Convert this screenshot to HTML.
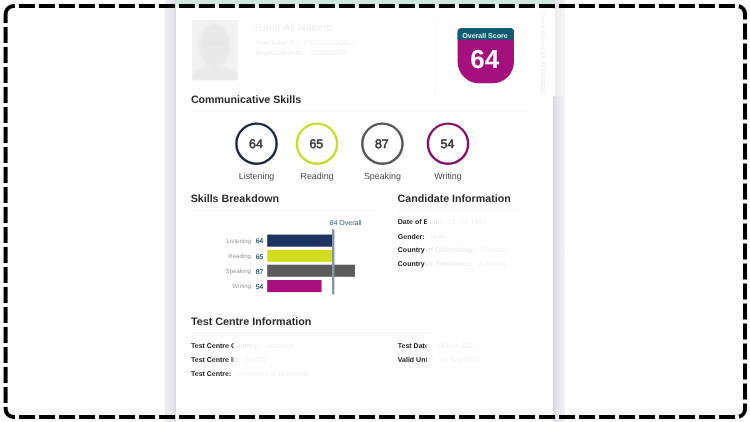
<!DOCTYPE html>
<html lang="en">
<head>
<meta charset="utf-8">
<title>Score Report</title>
<style>
html,body{margin:0;padding:0;background:#fff;}
body{width:750px;height:422px;overflow:hidden;position:relative;font-family:"Liberation Sans",sans-serif;}
svg{position:absolute;left:0;top:0;display:block;}
text{font-family:"Liberation Sans",sans-serif;text-rendering:geometricPrecision;}
.b{font-weight:bold;}
.h{font-weight:bold;font-size:10.67px;fill:#2a2a2a;}
.row{font-weight:bold;font-size:7px;fill:#222;}
.fade{font-weight:normal;fill:#444;}
.num{font-weight:normal;font-size:12.4px;fill:#333;stroke:#333;stroke-width:0.5px;text-anchor:middle;}
.lab{font-size:8.9px;fill:#4a4a4a;text-anchor:middle;}
.bl{font-size:6.1px;fill:#9a9a9a;text-anchor:end;}
.bv{font-size:6.8px;fill:#27506d;font-weight:normal;stroke:#27506d;stroke-width:0.18px;}
</style>
</head>
<body>
<svg width="750" height="422" viewBox="0 0 750 422">
  <defs>
    <linearGradient id="gl" x1="0" x2="1" y1="0" y2="0">
      <stop offset="0" stop-color="#ffffff"/>
      <stop offset="0.12" stop-color="#eeeef3"/>
      <stop offset="0.5" stop-color="#e9e8ee"/>
      <stop offset="0.85" stop-color="#e3e2e9"/>
      <stop offset="1" stop-color="#d6d5dc"/>
    </linearGradient>
    <linearGradient id="gr" x1="1" x2="0" y1="0" y2="0">
      <stop offset="0" stop-color="#ffffff"/>
      <stop offset="0.12" stop-color="#eeeef3"/>
      <stop offset="0.5" stop-color="#e9e8ee"/>
      <stop offset="0.85" stop-color="#e0dfe6"/>
      <stop offset="1" stop-color="#cfced5"/>
    </linearGradient>
    <filter id="blur1" x="-20%" y="-20%" width="140%" height="140%"><feGaussianBlur stdDeviation="1.2"/></filter>
    <clipPath id="photoclip"><rect x="192" y="20" width="46" height="60.5"/></clipPath>
  </defs>

  <!-- page background -->
  <rect x="0" y="0" width="750" height="422" fill="#ffffff"/>
  <!-- side strips -->
  <rect x="164" y="0" width="12" height="422" fill="url(#gl)"/>
  <rect x="552.8" y="0" width="13" height="422" fill="url(#gr)"/>
  <!-- card -->
  <rect x="176" y="0" width="376.8" height="422" fill="#ffffff"/>
  <!-- green top band -->
  <rect x="176" y="0" width="376.8" height="4.2" fill="#cde8e0"/><rect x="176" y="4.2" width="376.8" height="3.8" fill="#e4f2ee"/>

  <!-- photo -->
  <g clip-path="url(#photoclip)">
    <rect x="192" y="20" width="46" height="60.5" fill="#f2f2f2"/>
    <g filter="url(#blur1)">
      <ellipse cx="214.5" cy="45.5" rx="15.5" ry="22" fill="#e8e8e8"/>
      <rect x="203" y="41" width="23" height="4" fill="#e4e4e4"/>
      <path d="M192 81 L192 74 Q200 68 207 67 L222 67 Q231 68 238 74 L238 81 Z" fill="#e9e9e9"/>
    </g>
  </g>

  <!-- name block (faded) -->
  <text x="255" y="30.8" font-size="10.7" fill="#eeeeee">Rana Ali Naeem</text>
  <text x="255.5" y="45.3" font-size="6.6" font-weight="bold" fill="#f0f0f0">Test Taker ID: <tspan font-weight="normal" dx="4" font-size="7.4">PTE000000421</tspan></text>
  <text x="255.5" y="55.2" font-size="6.6" font-weight="bold" fill="#f0f0f0">Registration ID: <tspan font-weight="normal" dx="4" font-size="7.4">408891884</tspan></text>

  <!-- faint divider -->
  <rect x="434.5" y="19.5" width="1" height="76" fill="#f6f6f6"/>

  <!-- badge -->
  <path d="M457.6 32.5 Q457.6 28 462.1 28 L509.5 28 Q514 28 514 32.5 L514 61.8 A21.5 21.5 0 0 1 492.5 83.3 L479.1 83.3 A21.5 21.5 0 0 1 457.6 61.8 Z" fill="#a4107e"/>
  <path d="M457.6 39.7 L457.6 32.5 Q457.6 28 462.1 28 L509.5 28 Q514 28 514 32.5 L514 39.7 Z" fill="#0e5b74"/>
  <text x="485" y="37.55" font-size="7.05" font-weight="bold" fill="#d9f1ec" text-anchor="middle">Overall Score</text>
  <text x="484.8" y="68.2" font-size="26" font-weight="bold" fill="#ffffff" text-anchor="middle">64</text>

  <!-- rotated faint text -->
  <text transform="translate(540.6,11.5) rotate(90)" font-size="6.1" font-weight="bold" fill="#efefef">Score Report ID: 4136628DG</text>

  <!-- Communicative Skills -->
  <text class="h" transform="translate(190.9,103.15)">Communicative Skills</text>
  <rect x="191" y="110.7" width="336" height="1" fill="#f5f5f5"/>

  <circle cx="256.5" cy="143.7" r="20.1" fill="#fff" stroke="#1b2947" stroke-width="2.4"/>
  <circle cx="317" cy="143.7" r="20.1" fill="#fff" stroke="#c9da2e" stroke-width="2.4"/>
  <circle cx="382.4" cy="143.7" r="20.1" fill="#fff" stroke="#555555" stroke-width="2.4"/>
  <circle cx="448" cy="143.7" r="20.1" fill="#fff" stroke="#86106f" stroke-width="2.4"/>
  <text class="num" x="255.9" y="148.2">64</text>
  <text class="num" x="316.3" y="148.2">65</text>
  <text class="num" x="381.8" y="148.2">87</text>
  <text class="num" x="447.4" y="148.2">54</text>
  <text class="lab" x="256.5" y="179.2">Listening</text>
  <text class="lab" x="317" y="179.2">Reading</text>
  <text class="lab" x="382.4" y="179.2">Speaking</text>
  <text class="lab" x="448" y="179.2">Writing</text>

  <!-- Skills Breakdown -->
  <text class="h" transform="translate(190.7,201.85)">Skills Breakdown</text>
  <rect x="191" y="209.2" width="185" height="1" fill="#f5f5f5"/>
  <text x="329.5" y="225.0" font-size="7.05" fill="#2c5a78">64 Overall</text>

  <text class="bl" x="251" y="242.8">Listening</text>
  <text class="bl" x="251" y="258">Reading</text>
  <text class="bl" x="251" y="273">Speaking</text>
  <text class="bl" x="251" y="288.2">Writing</text>
  <text class="bv" x="255.7" y="243.3">64</text>
  <text class="bv" x="255.7" y="258.5">65</text>
  <text class="bv" x="255.7" y="273.5">87</text>
  <text class="bv" x="255.7" y="288.7">54</text>

  <rect x="267.2" y="234.6" width="64.9" height="12.1" fill="#1d3461"/>
  <rect x="267.2" y="249.9" width="65.6" height="11.9" fill="#d1dc1e"/>
  <rect x="267.2" y="264.7" width="87.8" height="12.1" fill="#5b5b5b"/>
  <rect x="267.2" y="280.0" width="54.4" height="12.1" fill="#a9107f"/>
  <rect x="332" y="229.2" width="2.4" height="65.2" fill="#8398a5"/>

  <!-- Candidate Information -->
  <text class="h" transform="translate(397.6,201.85)">Candidate Information</text>
  <rect x="398" y="209.6" width="121" height="1" fill="#f4f4f4"/>
  <text class="row" x="397.8" y="224.4">Date of Birth: <tspan class="fade" dx="3.5">10 Jun 1994</tspan></text>
  <text class="row" x="397.8" y="238.7">Gender: <tspan class="fade" dx="4">Male</tspan></text>
  <text class="row" x="397.8" y="252.3">Country of Citizenship: <tspan class="fade" dx="4">Pakistan</tspan></text>
  <text class="row" x="397.8" y="266.4">Country of Residence: <tspan class="fade" dx="4">Australia</tspan></text>
  <rect x="426.8" y="214" width="110" height="60" fill="#ffffff" fill-opacity="0.915"/>

  <!-- Test Centre Information -->
  <text class="h" style="font-size:10.75px" transform="translate(190.9,325.1)">Test Centre Information</text>
  <rect x="191" y="332.3" width="240" height="1" fill="#f3f3f3"/>
  <text class="row" x="191" y="348">Test Centre Country: <tspan class="fade" dx="4">Australia</tspan></text>
  <text class="row" x="191" y="361.5">Test Centre ID: <tspan class="fade" dx="4">80870</tspan></text>
  <text class="row" x="191" y="375.6">Test Centre: <tspan class="fade" dx="4">University of Tasmania</tspan></text>
  <rect x="233.4" y="337" width="120" height="44" fill="#ffffff" fill-opacity="0.915"/>
  <text class="row" x="397.8" y="348">Test Date: <tspan class="fade" dx="4">18 Nov 2021</tspan></text>
  <text class="row" x="397.8" y="361.7">Valid Until: <tspan class="fade" dx="4">18 Nov 2023</tspan></text>
  <rect x="426.6" y="337" width="70" height="30" fill="#ffffff" fill-opacity="0.915"/>

  <!-- white tab over right strip -->
  <rect x="552" y="9" width="3" height="87.5" fill="#ffffff"/>
  <rect x="555" y="9" width="11" height="87.5" fill="#ffffff" fill-opacity="0.35"/>

  <!-- dashed frame -->
  <path d="M5.6 16.2 L5.6 14 A8 8 0 0 1 13.6 6 L737 6 A8 8 0 0 1 745 14 L745 409 A8 8 0 0 1 737 417 L13.6 417 A8 8 0 0 1 5.6 409 Z"
        fill="none" stroke="#000000" stroke-width="4" stroke-dasharray="16 4"/>
</svg>
</body>
</html>
